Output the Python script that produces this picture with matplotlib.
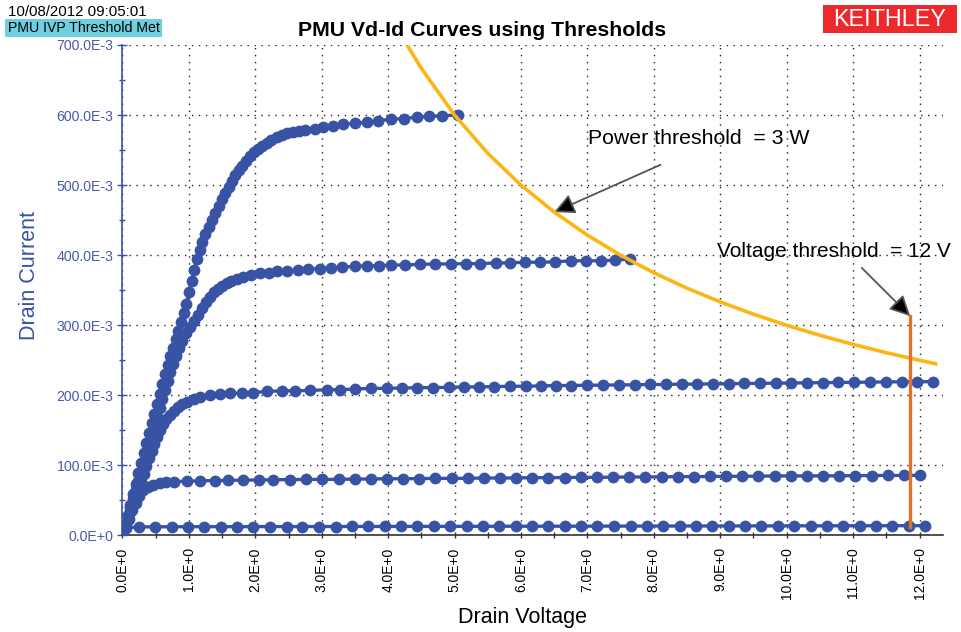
#!/usr/bin/env python3
"""PMU Vd-Id curves with power and voltage thresholds."""

import matplotlib
matplotlib.use('Agg')
import matplotlib.pyplot as plt
from matplotlib.patches import Rectangle
from matplotlib.ticker import FuncFormatter, MultipleLocator

plt.rcParams['font.family'] = ['Liberation Sans', 'DejaVu Sans']

# Drain sweeps, one per gate step (V in volts, I in amps)
vd_1 = [0.00, 0.04, 0.08, 0.12, 0.16, 0.20, 0.24, 0.28, 0.32, 0.36, 0.40, 0.44, 0.48,
        0.52, 0.56, 0.60, 0.64, 0.68, 0.72, 0.76, 0.80, 0.84, 0.88, 0.92, 0.96, 1.00,
        1.04, 1.08, 1.12, 1.16, 1.20, 1.25, 1.30, 1.35, 1.40, 1.45, 1.50, 1.55, 1.60,
        1.65, 1.70, 1.75, 1.80, 1.86, 1.92, 1.98, 2.04, 2.10, 2.17, 2.24, 2.32, 2.40,
        2.48, 2.57, 2.66, 2.75, 2.90, 3.02, 3.17, 3.32, 3.50, 3.68, 3.85, 4.04, 4.24,
        4.43, 4.62, 4.81, 5.05]
id_1 = [0.000, 0.014, 0.029, 0.044, 0.059, 0.074, 0.089, 0.104, 0.118, 0.132, 0.146, 0.160, 0.174,
        0.188, 0.202, 0.216, 0.230, 0.243, 0.256, 0.268, 0.280, 0.292, 0.304, 0.317, 0.331, 0.347,
        0.363, 0.379, 0.395, 0.408, 0.419, 0.430, 0.440, 0.450, 0.460, 0.470, 0.480, 0.489, 0.498,
        0.506, 0.514, 0.521, 0.528, 0.535, 0.542, 0.547, 0.552, 0.556, 0.560, 0.564, 0.568, 0.571,
        0.574, 0.576, 0.577, 0.578, 0.580, 0.583, 0.585, 0.587, 0.588, 0.590, 0.592, 0.594, 0.595,
        0.597, 0.598, 0.599, 0.600]

vd_2 = [0.00, 0.04, 0.08, 0.12, 0.16, 0.20, 0.24, 0.28, 0.32, 0.36, 0.40, 0.44, 0.48,
        0.52, 0.56, 0.60, 0.64, 0.68, 0.72, 0.76, 0.80, 0.85, 0.90, 0.96, 1.02, 1.08,
        1.14, 1.20, 1.26, 1.32, 1.38, 1.44, 1.50, 1.57, 1.64, 1.72, 1.82, 1.94, 2.07,
        2.20, 2.33, 2.48, 2.64, 2.80, 2.97, 3.14, 3.31, 3.50, 3.68, 3.86, 4.05, 4.25,
        4.48, 4.71, 4.94, 5.17, 5.39, 5.62, 5.84, 6.06, 6.29, 6.51, 6.75, 6.98, 7.20,
        7.42, 7.64]
id_2 = [0.000, 0.013, 0.026, 0.039, 0.052, 0.065, 0.078, 0.091, 0.104, 0.117, 0.130, 0.143, 0.156,
        0.169, 0.182, 0.195, 0.208, 0.221, 0.233, 0.245, 0.256, 0.267, 0.278, 0.289, 0.298, 0.306,
        0.315, 0.324, 0.333, 0.341, 0.347, 0.352, 0.356, 0.360, 0.363, 0.366, 0.369, 0.372, 0.374,
        0.375, 0.377, 0.378, 0.379, 0.380, 0.381, 0.382, 0.383, 0.384, 0.385, 0.385, 0.386, 0.386,
        0.387, 0.3875, 0.3875, 0.388, 0.388, 0.389, 0.389, 0.390, 0.390, 0.3905, 0.392, 0.392, 0.392,
        0.393, 0.3946]

vd_3 = [0.00, 0.04, 0.08, 0.12, 0.16, 0.20, 0.24, 0.28, 0.32, 0.36, 0.40, 0.44, 0.48,
        0.52, 0.56, 0.61, 0.66, 0.71, 0.77, 0.84, 0.90, 0.97, 1.07, 1.17, 1.32, 1.47,
        1.62, 1.80, 1.97, 2.17, 2.40, 2.60, 2.82, 3.08, 3.28, 3.50, 3.74, 3.98, 4.21,
        4.44, 4.68, 4.91, 5.14, 5.37, 5.60, 5.84, 6.07, 6.30, 6.53, 6.76, 7.00, 7.23,
        7.47, 7.71, 7.94, 8.18, 8.42, 8.65, 8.89, 9.13, 9.36, 9.60, 9.84, 10.07, 10.31,
        10.55, 10.78, 11.02, 11.26, 11.49, 11.73, 11.96, 12.20]
id_3 = [0.000, 0.011, 0.022, 0.033, 0.044, 0.055, 0.066, 0.077, 0.088, 0.099, 0.110, 0.120, 0.131,
        0.141, 0.150, 0.159, 0.166, 0.172, 0.177, 0.183, 0.187, 0.191, 0.195, 0.198, 0.2005, 0.202,
        0.203, 0.203, 0.204, 0.2055, 0.2065, 0.2065, 0.207, 0.208, 0.208, 0.209, 0.210, 0.210, 0.2105,
        0.211, 0.211, 0.2115, 0.212, 0.212, 0.2125, 0.213, 0.213, 0.2135, 0.214, 0.214, 0.2145, 0.2145,
        0.215, 0.215, 0.2155, 0.2155, 0.216, 0.216, 0.2165, 0.2165, 0.217, 0.217, 0.2175, 0.2175, 0.218,
        0.218, 0.2185, 0.2185, 0.219, 0.219, 0.2195, 0.2195, 0.2195]

vd_4 = [0.00, 0.05, 0.10, 0.15, 0.20, 0.25, 0.31, 0.38, 0.46, 0.56, 0.66, 0.77, 0.97,
        1.17, 1.39, 1.59, 1.82, 2.05, 2.27, 2.52, 2.77, 3.01, 3.26, 3.50, 3.74, 3.98,
        4.23, 4.47, 4.71, 4.96, 5.20, 5.44, 5.69, 5.93, 6.17, 6.41, 6.66, 6.90, 7.14,
        7.39, 7.63, 7.87, 8.12, 8.36, 8.60, 8.84, 9.09, 9.33, 9.57, 9.82, 10.06, 10.30,
        10.55, 10.79, 11.03, 11.28, 11.52, 11.76, 12.01]
id_4 = [0.000, 0.012, 0.024, 0.036, 0.046, 0.056, 0.065, 0.069, 0.072, 0.0745, 0.0758, 0.0768, 0.0775,
        0.078, 0.0783, 0.0786, 0.079, 0.0792, 0.0795, 0.0798, 0.080, 0.080, 0.0802, 0.0805, 0.0807, 0.081,
        0.081, 0.0812, 0.0815, 0.0815, 0.0817, 0.082, 0.082, 0.0822, 0.0825, 0.0825, 0.0827, 0.083, 0.083,
        0.0832, 0.0835, 0.0835, 0.0837, 0.084, 0.084, 0.0842, 0.0845, 0.0845, 0.0847, 0.085, 0.085, 0.085,
        0.0852, 0.0852, 0.0855, 0.0855, 0.0857, 0.0857, 0.086]

vd_5 = [0.00, 0.06, 0.25, 0.49, 0.74, 0.99, 1.23, 1.48, 1.73, 1.97, 2.22, 2.47, 2.71,
        2.96, 3.21, 3.45, 3.70, 3.95, 4.19, 4.44, 4.69, 4.93, 5.18, 5.43, 5.67, 5.92,
        6.17, 6.41, 6.66, 6.91, 7.15, 7.40, 7.65, 7.89, 8.14, 8.39, 8.63, 8.88, 9.13,
        9.37, 9.62, 9.87, 10.11, 10.36, 10.61, 10.85, 11.10, 11.35, 11.59, 11.84, 12.09]
id_5 = [0.000, 0.0110, 0.0122, 0.0124, 0.0125, 0.0125, 0.0126, 0.0126, 0.0126, 0.0127, 0.0127, 0.0127, 0.0128,
        0.0128, 0.0128, 0.0129, 0.0129, 0.0129, 0.0130, 0.0130, 0.0130, 0.0131, 0.0131, 0.0131, 0.0132, 0.0132,
        0.0132, 0.0133, 0.0133, 0.0133, 0.0134, 0.0134, 0.0134, 0.0135, 0.0135, 0.0135, 0.0136, 0.0136, 0.0136,
        0.0137, 0.0137, 0.0137, 0.0138, 0.0138, 0.0138, 0.0139, 0.0139, 0.0139, 0.0140, 0.0140, 0.0140]

curves = [(vd_1, id_1), (vd_2, id_2), (vd_3, id_3), (vd_4, id_4), (vd_5, id_5)]

# Thresholds
power_limit = 3.0          # W
power_vd = [4.29, 4.5, 5.0, 5.5, 6.0, 6.5, 7.0, 7.5, 8.0, 8.5, 9.0, 9.5, 10.0,
            10.5, 11.0, 11.5, 12.0, 12.24]
voltage_stop_vd = 11.86    # where the sweep was cut off
voltage_stop_id = [0.0126, 0.313]

BLUE = '#3953a4'
TICK_BLUE = '#4a5ba8'
GOLD = '#fbb614'
RUST = '#e2712c'

fig = plt.figure(figsize=(9.62, 6.32), dpi=100)
ax = fig.add_axes([0.1273, 0.1527, 0.8527, 0.7761])

for vd, idd in curves:
    ax.plot(vd, idd, color=BLUE, linewidth=2.4, marker='o', markersize=8.5,
            markeredgewidth=0, zorder=3)

power_id = [power_limit / v for v in power_vd]
ax.plot(power_vd, power_id, color=GOLD, linewidth=2.6, zorder=4)
ax.plot([voltage_stop_vd, voltage_stop_vd], voltage_stop_id, color=RUST,
        linewidth=2.4, zorder=5)

ax.set_xlim(0, 12.35)
ax.set_ylim(0, 0.7)

# axes styling
for side in ['top', 'right']:
    ax.spines[side].set_visible(False)
ax.spines['left'].set_color(BLUE)
ax.spines['left'].set_linewidth(1.2)
ax.spines['bottom'].set_color('#333333')
ax.spines['bottom'].set_linewidth(1.2)

ax.xaxis.set_major_locator(MultipleLocator(1.0))
ax.xaxis.set_minor_locator(MultipleLocator(0.5))
ax.yaxis.set_major_locator(MultipleLocator(0.1))
ax.yaxis.set_minor_locator(MultipleLocator(0.05))

ax.xaxis.set_major_formatter(FuncFormatter(lambda v, p: f'{v:.1f}E+0'))
ax.yaxis.set_major_formatter(FuncFormatter(
    lambda v, p: '0.0E+0' if abs(v) < 1e-9 else f'{v * 1000:.1f}E-3'))

ax.tick_params(axis='x', which='both', direction='inout', length=5, width=1,
               color='#333333', labelsize=10, labelrotation=90, pad=6)
ax.tick_params(axis='y', which='major', direction='inout', length=7, width=1,
               color=BLUE, labelcolor=TICK_BLUE, labelsize=10.2, pad=3)
ax.tick_params(axis='y', which='minor', direction='inout', length=5, width=1,
               color=BLUE)

ax.grid(True, which='major', color='#222222', linestyle=(0, (1, 4)), linewidth=1)
ax.set_axisbelow(True)

fig.text(523 / 962, 1 - 618 / 632, 'Drain Voltage', fontsize=15.5,
         ha='center', va='center')
fig.text(30 / 962, 1 - 275 / 632, 'Drain Current', fontsize=15.5, color=BLUE,
         rotation=90, ha='center', va='center')

fig.text(482 / 962, 1 - 31 / 632, 'PMU Vd-Id Curves using Thresholds',
         fontsize=15.3, fontweight='bold', ha='center', va='center')

# header stamp
fig.text(8 / 962, 1 - 12 / 632, '10/08/2012 09:05:01', fontsize=10.8,
         ha='left', va='center')
fig.patches.append(Rectangle((5 / 962, 1 - 37 / 632), 157 / 962, 18 / 632,
                             transform=fig.transFigure, facecolor='#6dcfe0',
                             edgecolor='none'))
fig.text(8 / 962, 1 - 28 / 632, 'PMU IVP Threshold Met', fontsize=10.2,
         ha='left', va='center')

# logo
fig.patches.append(Rectangle((823 / 962, 1 - 33 / 632), 134 / 962, 28 / 632,
                             transform=fig.transFigure, facecolor='#ec2a2e',
                             edgecolor='none'))
fig.text(890 / 962, 1 - 19 / 632, 'KEITHLEY', fontsize=16.8, color='white',
         ha='center', va='center')

# threshold callouts
arrow = dict(arrowstyle='-|>,head_length=0.8,head_width=0.4',
             ec='#555555', fc='black', linewidth=1.3, shrinkA=0, shrinkB=0)
ax.annotate('', xy=(6.5, power_limit / 6.5), xytext=(8.10, 0.529),
            arrowprops=arrow, fontsize=15.5)
ax.text(7.01, 0.567, 'Power threshold  = 3 W', fontsize=15.3, ha='left', va='center')

ax.annotate('', xy=(voltage_stop_vd, voltage_stop_id[1]), xytext=(11.13, 0.382),
            arrowprops=arrow, fontsize=15.5)
ax.text(8.95, 0.4046, 'Voltage threshold  = 12 V', fontsize=15,
        ha='left', va='center', clip_on=False)

fig.savefig('out.png', dpi=100)
